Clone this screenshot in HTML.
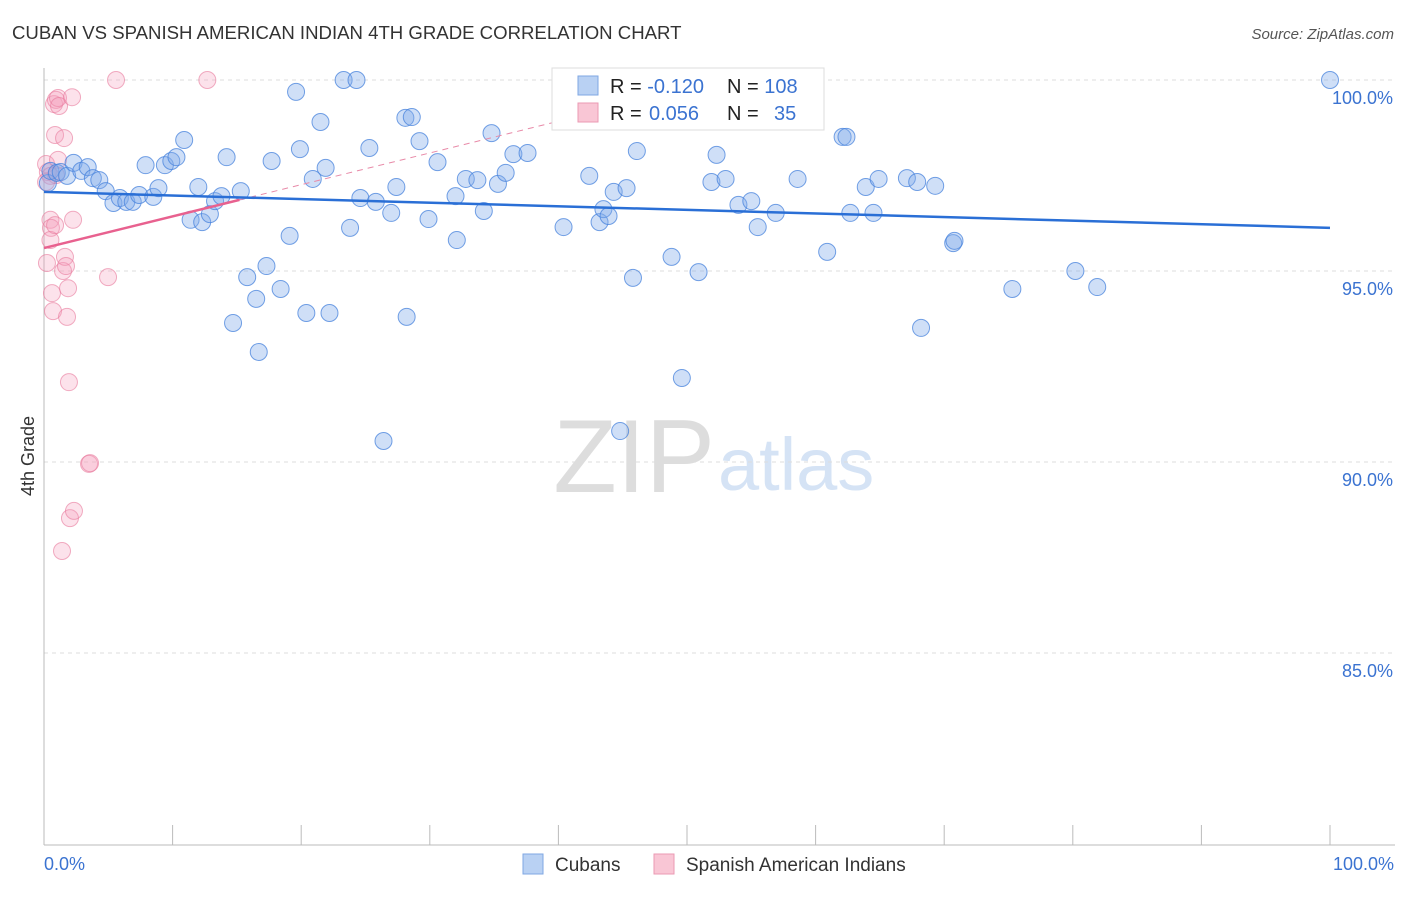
<!DOCTYPE html>
<html><head><meta charset="utf-8"><style>
body{margin:0;background:#fff;font-family:"Liberation Sans",sans-serif;}
svg text{font-family:"Liberation Sans",sans-serif;}
</style></head><body>
<svg width="1406" height="892" xmlns="http://www.w3.org/2000/svg">
<text x="12" y="39" font-size="18.6" fill="#333">CUBAN VS SPANISH AMERICAN INDIAN 4TH GRADE CORRELATION CHART</text>
<text x="1394" y="39" font-size="15" fill="#555" font-style="italic" text-anchor="end">Source: ZipAtlas.com</text>
<text x="715" y="492" font-size="104" fill="#ddd" font-family="Liberation Serif" text-anchor="end">ZIP</text>
<text x="718" y="490" font-size="74" fill="#d5e3f5">atlas</text>
<g id="grid"></g>
<line x1="44" y1="68" x2="44" y2="845" stroke="#bbb"/>
<line x1="44" y1="845" x2="1395" y2="845" stroke="#bbb"/>
<g id="ticks"></g>
<text x="34" y="456" font-size="18" fill="#333" transform="rotate(-90 34 456)" text-anchor="middle">4th Grade</text>
<text x="44" y="870" font-size="18" fill="#3b73d1">0.0%</text>
<text x="1394" y="870" font-size="18" fill="#3b73d1" text-anchor="end">100.0%</text>
<g id="pts"></g>
<g id="lines"></g>
<g>
<rect x="552" y="68" width="272" height="62" fill="#fff" stroke="#ddd"/>
<rect x="578" y="76" width="20" height="19" fill="#b9d1f3" stroke="#7fa7e3"/>
<rect x="578" y="103" width="20" height="19" fill="#f9c6d5" stroke="#eb9ab3"/>
<text x="610" y="93" font-size="20" fill="#222">R = <tspan fill="#3b73d1">-0.120</tspan><tspan x="727">N = </tspan><tspan fill="#3b73d1">108</tspan></text>
<text x="610" y="120" font-size="20" fill="#222">R = <tspan fill="#3b73d1" x="649">0.056</tspan><tspan x="727">N = </tspan><tspan fill="#3b73d1" x="774">35</tspan></text>
</g>
<g>
<rect x="523" y="854" width="20" height="20" fill="#b9d1f3" stroke="#7fa7e3"/>
<text x="555" y="871" font-size="19" fill="#333">Cubans</text>
<rect x="654" y="854" width="20" height="20" fill="#f9c6d5" stroke="#eb9ab3"/>
<text x="686" y="871" font-size="19" fill="#333">Spanish American Indians</text>
</g>
</svg>
<script>
const yTicks=[100,95,90,85];
const cubanX=[0.3,0.5,1.0,1.3,1.8,2.3,2.9,3.4,3.8,4.3,4.8,5.4,5.9,6.4,6.9,7.4,7.9,8.5,8.9,9.4,9.9,10.3,10.9,11.4,12.0,12.3,12.9,13.3,13.8,14.2,14.7,15.3,15.8,16.5,16.7,17.3,17.7,18.4,19.1,19.6,19.9,20.4,20.9,21.5,21.9,22.2,23.3,23.8,24.3,24.6,25.3,25.8,26.4,27.0,27.4,28.1,28.2,28.6,29.2,29.9,30.6,32.0,32.1,32.8,33.7,34.2,34.8,35.3,35.9,36.5,37.6,40.4,42.4,43.2,43.5,43.9,44.3,44.8,45.3,45.8,46.1,48.8,49.6,50.9,51.9,52.3,53.0,54.0,55.0,55.5,56.9,58.6,60.9,62.1,62.4,62.7,63.9,64.5,64.9,67.1,67.9,68.2,69.3,70.7,70.8,75.3,80.2,81.9,100];
const cubanY=[97.30,97.62,97.57,97.59,97.49,97.83,97.62,97.72,97.43,97.38,97.09,96.78,96.91,96.81,96.81,96.99,97.77,96.94,97.17,97.77,97.88,97.98,98.43,96.34,97.20,96.28,96.49,96.83,96.96,97.98,93.64,97.09,94.84,94.27,92.88,95.13,97.88,94.53,95.92,99.69,98.19,93.90,97.41,98.90,97.70,93.90,100,96.13,100,96.91,98.22,96.81,90.55,96.52,97.20,99.01,93.80,99.03,98.40,96.36,97.85,96.96,95.81,97.41,97.38,96.57,98.61,97.28,97.57,98.06,98.09,96.15,97.49,96.28,96.62,96.44,97.07,90.81,97.17,94.82,98.14,95.37,92.20,94.97,97.33,98.04,97.41,96.73,96.83,96.15,96.52,97.41,95.50,98.51,98.51,96.52,97.20,96.52,97.41,97.43,97.33,93.51,97.23,95.73,95.79,94.53,95.00,94.58,100];
const sainX=[0.16,0.3,0.5,0.54,0.23,0.5,0.62,0.7,0.78,0.86,0.93,1.09,1.09,1.17,1.4,1.48,1.63,1.71,1.79,1.87,1.94,2.02,2.18,2.26,2.33,3.5,3.58,4.98,5.6,12.7,1.56,0.93,0.5,0.16,0.86];
const sainY=[97.80,97.59,96.34,96.13,95.21,95.81,94.42,93.95,99.37,98.56,99.48,99.53,97.91,99.32,87.67,95.00,95.37,95.13,93.80,94.55,92.09,88.53,99.55,96.34,88.72,89.95,89.97,94.84,100,100,98.48,97.51,97.49,97.33,96.20];
const cubanTrend=[97.07,96.13];
const sainTrend=[95.6,0.083];
const X=v=>44+v*12.86, Y=v=>80+(100-v)*38.2;
const NS="http://www.w3.org/2000/svg";
function mk(t,a,p){const e=document.createElementNS(NS,t);for(const k in a)e.setAttribute(k,a[k]);p.appendChild(e);return e;}
const grid=document.getElementById('grid');
yTicks.forEach(v=>{
 const l=mk('line',{x1:44,x2:1395,y1:Y(v),y2:Y(v),stroke:'#ddd','stroke-dasharray':'4,4'},grid);
 
 
 const t=mk('text',{x:1393,y:Y(v)+24,'font-size':18,fill:'#3b73d1','text-anchor':'end'},grid);
 t.textContent=v.toFixed(1)+'%';
 
 
});
const ticks=document.getElementById('ticks');
for(let i=0;i<=10;i++){const l=mk('line',{x1:X(i*10),x2:X(i*10),y1:825,y2:845,stroke:'#bbb'},ticks);
 
 }
const pts=document.getElementById('pts');
sainX.forEach((x,i)=>{const c=mk('circle',{cx:X(x),cy:Y(sainY[i]),r:8.5,fill:'rgba(244,160,190,0.3)',stroke:'rgba(232,120,155,0.6)','stroke-width':1},pts);
 
 });
cubanX.forEach((x,i)=>{const c=mk('circle',{cx:X(x),cy:Y(cubanY[i]),r:8.5,fill:'rgba(130,172,235,0.38)',stroke:'rgba(70,130,220,0.75)','stroke-width':1},pts);
 
 });
const lines=document.getElementById('lines');
const pd=mk('line',{x1:X(15.2),y1:Y(sainTrend[0]+sainTrend[1]*15.2),x2:X(40),y2:Y(sainTrend[0]+sainTrend[1]*40),stroke:'#e88aa8','stroke-dasharray':'6,5','stroke-width':1},lines);


const ps=mk('line',{x1:X(0),y1:Y(sainTrend[0]),x2:X(15.2),y2:Y(sainTrend[0]+sainTrend[1]*15.2),stroke:'#e8618f','stroke-width':2.5},lines);


const cb=mk('line',{x1:X(0),y1:Y(cubanTrend[0]),x2:X(100),y2:Y(cubanTrend[1]),stroke:'#2a6fd6','stroke-width':2.5},lines);


</script>
</body></html>
